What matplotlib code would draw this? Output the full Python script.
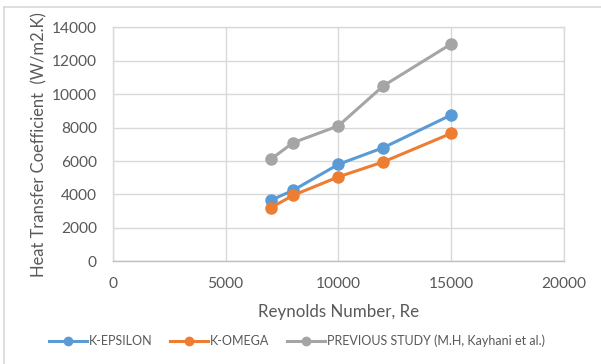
import matplotlib.pyplot as plt
from matplotlib.lines import Line2D

plt.rcParams["font.family"] = ["Lato", "DejaVu Sans"]

# Reynolds numbers and heat transfer coefficients (W/m2.K)
reynolds = [7000, 8000, 10000, 12000, 15000]
k_epsilon = [3650, 4250, 5800, 6800, 8750]
k_omega = [3200, 3950, 5050, 5950, 7650]
previous_study = [6100, 7100, 8100, 10500, 13000]

series = [
    ("K-EPSILON", k_epsilon, "#5B9BD5"),
    ("K-OMEGA", k_omega, "#ED7D31"),
    ("PREVIOUS STUDY (M.H, Kayhani et al.)", previous_study, "#A5A5A5"),
]

x_ticks = [0, 5000, 10000, 15000, 20000]
y_ticks = list(range(0, 14001, 2000))

text_grey = "#595959"
grid_grey = "#D9D9D9"

fig = plt.figure(figsize=(6.01, 3.64), dpi=100)
ax = fig.add_axes([0.1878, 0.2821, 0.7502, 0.6429])

for name, values, colour in series:
    ax.plot(reynolds, values, color=colour, lw=2.2, marker="o", ms=8,
            label=name, zorder=3)

ax.set_xlim(0, 20000)
ax.set_ylim(0, 14000)
ax.set_xticks(x_ticks)
ax.set_yticks(y_ticks)
ax.grid(True, color=grid_grey, lw=1.0)
ax.set_axisbelow(True)
for spine in ax.spines.values():
    spine.set_color(grid_grey)
    spine.set_linewidth(1.0)
ax.spines["bottom"].set_color("#BFBFBF")
ax.tick_params(length=0, colors=text_grey, labelsize=11.2)
ax.tick_params(axis="x", pad=11)
ax.tick_params(axis="y", pad=11.5)

ax.set_xlabel("Reynolds Number, Re", color=text_grey, fontsize=12.2, labelpad=10)
ax.set_ylabel("Heat Transfer Coefficient  (W/m2.K)", color=text_grey,
              fontsize=11.9, labelpad=3.5)

handles = [Line2D([], [], color=c, lw=2.2, marker="o", ms=6) for _, _, c in series]
fig.legend(handles, [s[0] for s in series], loc="center",
           bbox_to_anchor=(0.494, 0.064), ncol=3, frameon=False,
           fontsize=9, labelcolor=text_grey, handlelength=3.1,
           handletextpad=0.15, columnspacing=1.35)

# thin frame along the top and left edges of the chart area
fig.add_artist(Line2D([4 / 601, 4 / 601], [0, 1 - 7 / 364], color="#D9D9D9",
                      lw=1.2, transform=fig.transFigure))
fig.add_artist(Line2D([4 / 601, 1], [1 - 7 / 364, 1 - 7 / 364], color="#D9D9D9",
                      lw=1.2, transform=fig.transFigure))

fig.savefig("out.png", dpi=100)
